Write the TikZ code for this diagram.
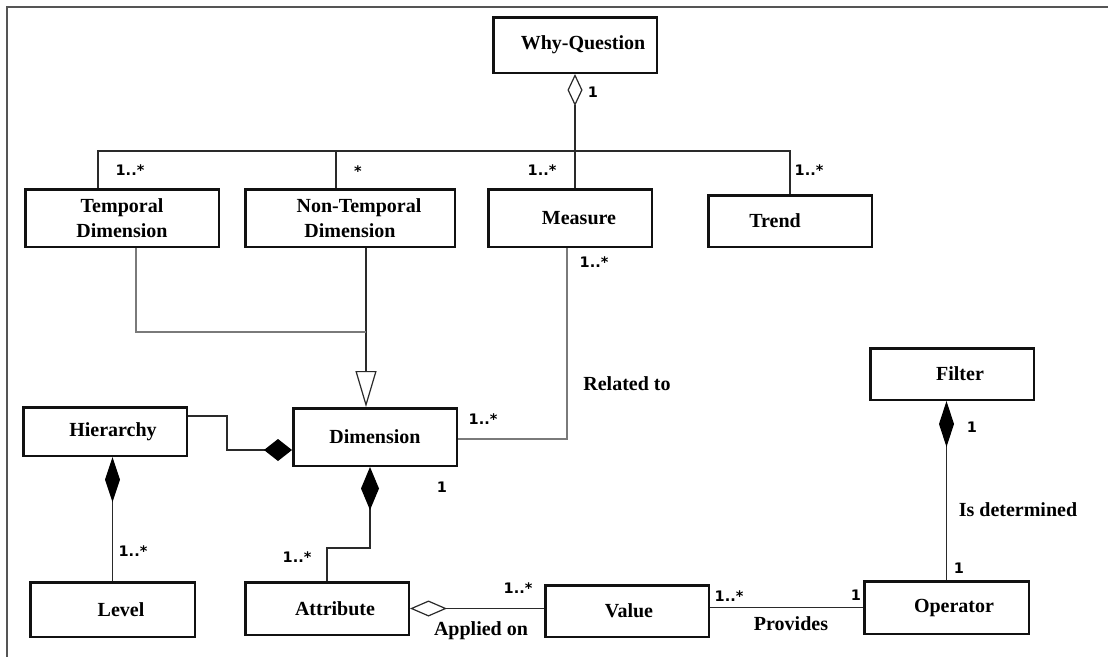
\documentclass[tikz,border=0pt]{standalone}
\usepackage{fontspec}
\setmainfont{Liberation Serif}
\newfontfamily\multfont{DejaVu Sans}
\usetikzlibrary{arrows.meta,calc}
\definecolor{boxline}{HTML}{111111}
\definecolor{conline}{HTML}{2A2A2A}
\definecolor{greyline}{HTML}{7A7A7A}
\definecolor{framecol}{HTML}{555555}
\tikzset{
 cls/.style={draw=boxline, line width=2.5pt, fill=white, inner sep=0pt, font=\fontsize{20}{25}\selectfont\bfseries, align=center},
 conn/.style={draw=conline, line width=1.2pt},
 gconn/.style={draw=greyline, line width=1.2pt},
 mult/.style={font=\multfont\bfseries\fontsize{14.5}{16}\selectfont, inner sep=0pt},
 rlabel/.style={font=\fontsize{20}{24}\selectfont\bfseries, inner sep=0pt},
}
\begin{document}
\begin{tikzpicture}[x=1pt,y=-1pt]
\useasboundingbox (0,0) rectangle (1108,657);
\fill[white] (0,0) rectangle (1108,657);
\draw[framecol, line width=2pt] (1108,6.5) -- (7,6.5) -- (7,657);

% classes
\node[cls, minimum width=163.5pt, minimum height=55.5pt] (wq) at (575,45) {\hspace*{16pt}Why-Question};
\node[cls, minimum width=193.5pt, minimum height=57.5pt] (td) at (122,218) {Temporal\\Dimension};
\node[cls, minimum width=209.5pt, minimum height=57.5pt] (ntd) at (350,218) {\hspace*{18pt}Non-Temporal\\Dimension};
\node[cls, minimum width=163.5pt, minimum height=57.5pt] (meas) at (570,218) {\hspace*{18pt}Measure};
\node[cls, minimum width=163.5pt, minimum height=51.5pt] (trend) at (790,221) {Trend\hspace*{30pt}};
\node[cls, minimum width=163.5pt, minimum height=48.5pt] (hier) at (105,431.5) {\hspace*{16pt}Hierarchy};
\node[cls, minimum width=163.5pt, minimum height=57.5pt] (dim) at (375,437) {Dimension};
\node[cls, minimum width=164.5pt, minimum height=54.5pt] (level) at (112.5,609.5) {\hspace*{17pt}Level};
\node[cls, minimum width=163.5pt, minimum height=52.5pt] (attr) at (327,608.5) {\hspace*{16pt}Attribute};
\node[cls, minimum width=163.5pt, minimum height=51.5pt] (value) at (627,611) {\hspace*{4pt}Value};
\node[cls, minimum width=164.5pt, minimum height=52.5pt] (oper) at (946.5,607.5) {\hspace*{15pt}Operator};
\node[cls, minimum width=163.5pt, minimum height=51.5pt] (filter) at (952,374) {\hspace*{16pt}Filter};

% Why-Question aggregation
\coordinate (bus) at (575,151);
\draw[conn, {Diamond[open,length=32pt,width=15pt]}-] (wq.south) -- (wq.south |- meas.north);
\draw[conn] ([xshift=-24pt]td.north) |- (bus);
\draw[conn] ([xshift=-14pt]ntd.north) -- ([xshift=-14pt]ntd.north |- bus);
\draw[conn] (trend.north) |- (bus);

% generalization
\coordinate (gj) at (366,332);
\draw[conn, -{Triangle[open,length=36pt,width=21pt]}] ([xshift=16pt]ntd.south) -- ([xshift=-9pt]dim.north);
\draw[gconn] ([xshift=14pt]td.south) |- (gj);

% compositions
\draw[conn, -{Diamond[color=black,length=28pt,width=22pt]}] ([yshift=15.5pt]hier.east) -- ++(39,0) |- ([yshift=-13pt]dim.west);
\draw[conn, {Diamond[color=black,length=45pt,width=15pt]}-] (level.north |- hier.south) -- (level.north);
\draw[conn, {Diamond[color=black,length=43pt,width=18pt]}-] ([xshift=-5pt]dim.south) -- ++(0,81) -| (attr.north);
\draw[conn, {Diamond[color=black,length=46pt,width=15pt]}-] (oper.north |- filter.south) -- (oper.north);

% associations
\draw[conn, {Diamond[open,length=37pt,width=16pt]}-] (attr.east) -- (attr.east -| value.west);
\draw[conn] (value.east |- oper.west) -- (oper.west);
\draw[gconn] ([xshift=-3pt]meas.south) |- ([yshift=-2pt]dim.east);

% multiplicities
\node[mult] (m1) at (593,92) {1};
\node[mult] (m2) at (130,170) {1..*};
\node[mult] (m3) at (358,171) {*};
\node[mult] (m4) at (542,170) {1..*};
\node[mult] (m5) at (809,170) {1..*};
\node[mult] (m6) at (594,262) {1..*};
\node[mult] (m7) at (483,419) {1..*};
\node[mult] (m8) at (442,487) {1};
\node[mult] (m9) at (133,551) {1..*};
\node[mult] (m10) at (297,557) {1..*};
\node[mult] (m11) at (518,588) {1..*};
\node[mult] (m12) at (729,596) {1..*};
\node[mult] (m13) at (856,595) {1};
\node[mult] (m14) at (972,427) {1};
\node[mult] (m15) at (959,568) {1};

% role labels
\node[rlabel] (rel) at (627,384) {Related to};
\node[rlabel] (app) at (481,631) {Applied on};
\node[rlabel] (prov) at (791,624) {Provides};
\node[rlabel] (isd) at (1018,510) {Is determined};
\end{tikzpicture}
\end{document}
